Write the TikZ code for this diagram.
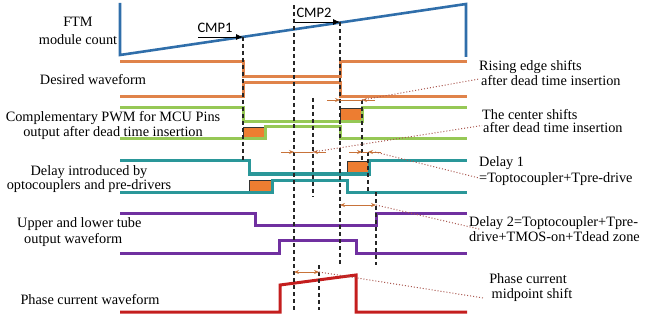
\documentclass[tikz,border=0pt]{standalone}
\usepackage{fontspec}
\setmainfont{Liberation Serif}
\newfontfamily\cmpfont{Carlito}
\usepackage{tikz}
\usetikzlibrary{arrows.meta}
\usepackage{xcolor}
\definecolor{ftm_blue}{HTML}{2F6EAA}
\definecolor{wave_orange}{HTML}{E0834A}
\definecolor{wave_green}{HTML}{96C856}
\definecolor{wave_teal}{HTML}{2A9799}
\definecolor{wave_purple}{HTML}{7030A0}
\definecolor{wave_red}{HTML}{C41E1E}
\definecolor{box_orange}{HTML}{ED7D31}
\definecolor{meas_brown}{HTML}{C8733A}
\definecolor{lead_red}{HTML}{A9574F}

\begin{document}
\begin{tikzpicture}[x=1pt, y=-1pt,
    wave/.style={line width=3pt},
    guide/.style={black!85, line width=1.1pt, dash pattern=on 4pt off 3pt},
    deadbox/.style={fill=box_orange, draw=black!80, line width=0.9pt},
    meas/.style={meas_brown, line width=0.9pt},
    leader/.style={lead_red, line width=1pt, dotted},
    txt/.style={font=\fontsize{14.3}{#1}\selectfont, inner sep=0pt},
    txt/.default=15
]
	\useasboundingbox (0,0) rectangle (648,318);

	% counter ramp and compare points
	\draw [ftm_blue, line width=2.6pt] (120,3) -- (120,55) -- (466,4) -- (466,57);
	\draw [-{Latex[length=7pt,width=6pt]}, thick] (198,37) -- (243,37);
	\draw [-{Latex[length=7pt,width=6pt]}, thick] (294,22) -- (340,22);
	\node (cmp1) at (215,27.5) {\cmpfont\fontsize{14.5}{15}\selectfont CMP1};
	\node (cmp2) at (314,13) {\cmpfont\fontsize{14.5}{15}\selectfont CMP2};

	% dead time boxes
	\draw [deadbox] (243,127) rectangle (265,139);
	\draw [deadbox] (340,108) rectangle (362,122);
	\draw [deadbox] (249,180) rectangle (272,192);
	\draw [deadbox] (347,161) rectangle (369,174);

	\draw [wave, wave_orange] (120,62) -- (243,62) -- (243,77) -- (340,77) -- (340,62) -- (467,62);
	\draw [wave, wave_orange] (120,97) -- (243,97) -- (243,83) -- (340,83) -- (340,97) -- (467,97);
	\draw [wave, wave_green] (120,108) -- (243,108) -- (243,122) -- (362,122) -- (362,108) -- (467,108);
	\draw [wave, wave_green] (120,139) -- (265,139) -- (265,127) -- (340,127) -- (340,139) -- (467,139);
	\draw [wave, wave_teal] (120,161) -- (249,161) -- (249,174) -- (369,174) -- (369,161) -- (467,161);
	\draw [wave, wave_teal] (120,192) -- (272,192) -- (272,180) -- (347,180) -- (347,192) -- (467,192);
	\draw [wave, wave_purple] (120,213) -- (255,213) -- (255,225) -- (376,225) -- (376,213) -- (467,213);
	\draw [wave, wave_purple] (120,253) -- (279,253) -- (279,240) -- (356,240) -- (356,253) -- (467,253);
	\draw [wave, wave_red] (120,312) -- (280,312) -- (280,285) -- (356,275) -- (356,312) -- (467,312);

	\foreach \x/\ya/\yb in {243/37/160, 294/5/310, 340/22/265, 313/98/197, 362/100/162, 368/152/192, 376/192/265, 319/265/310}
		\draw [guide] (\x,\ya) -- (\x,\yb);

	% shifts and delays
	\draw [meas, -{Stealth[length=5pt,width=4pt]}] (327,100) -- (340,100);
	\draw [meas] (340,100) -- (362,100);
	\draw [meas, -{Stealth[length=5pt,width=4pt]}] (375,100) -- (362,100);
	\draw [meas, -{Stealth[length=5pt,width=4pt]}] (281,152) -- (294,152);
	\draw [meas] (294,152) -- (313,152);
	\draw [meas, -{Stealth[length=5pt,width=4pt]}] (326,152) -- (313,152);
	\draw [meas, -{Stealth[length=5pt,width=4pt]}] (349,152) -- (362,152);
	\draw [meas] (362,152) -- (368,152);
	\draw [meas, -{Stealth[length=5pt,width=4pt]}] (381,152) -- (368,152);
	\draw [meas, {Stealth[length=5pt,width=4pt]}-{Stealth[length=5pt,width=4pt]}] (340,205) -- (376,205);
	\draw [meas, {Stealth[length=5pt,width=4pt]}-{Stealth[length=5pt,width=4pt]}] (294,272) -- (319,272);
	\coordinate (rise_pt) at (362,100);
	\coordinate (cent_pt) at (313,152);
	\coordinate (d1_pt) at (375,152);
	\coordinate (d2_pt) at (376,205);
	\coordinate (ph_pt) at (319,272);

	% left labels
	\node [txt=18, align=center] (ftm) at (78,31) {FTM\\module count};
	\node [txt] (desired) at (93,80) {Desired waveform};
	\node [txt, align=center] (cpwm) at (113,125) {Complementary PWM for MCU Pins\\output after dead time insertion};
	\node [txt=12, align=center] (opto) at (89,179) {Delay introduced by\\optocouplers and pre-drivers};
	\node [txt=16, align=left, anchor=west] (tube) at (17,232) {Upper and lower tube\\\hspace{7pt}output waveform};
	\node [txt] (phase) at (90,300) {Phase current waveform};

	% right labels
	\node [txt=12, align=left, anchor=west] (rise) at (479,73) {Rising edge shifts\\\hspace{2pt}after dead time insertion};
	\node [txt=13, align=left, anchor=west] (cent) at (482,121.5) {The center shifts\\\hspace{1pt}after dead time insertion};
	\node [txt=16, align=left, anchor=west] (delay1) at (479,171) {Delay 1\\=Toptocoupler+Tpre-drive};
	\node [txt=15, align=left, anchor=west] (delay2) at (469,229.5) {Delay 2=Toptocoupler+Tpre-\\drive+TMOS-on+Tdead zone};
	\node [txt=15, align=center] (midpt) at (528,288) {Phase current\\\hspace{8pt}midpoint shift};

	\draw [leader] (rise_pt) -- ([yshift=-6pt]rise.west);
	\draw [leader] (cent_pt) -- ([yshift=-4pt]cent.west);
	\draw [leader] (d1_pt) -- ([yshift=-7pt]delay1.west);
	\draw [leader] (d2_pt) -- ([xshift=12pt]delay2.west);
	\draw [leader] (ph_pt) -- ([yshift=-10pt]midpt.west);
\end{tikzpicture}
\end{document}
